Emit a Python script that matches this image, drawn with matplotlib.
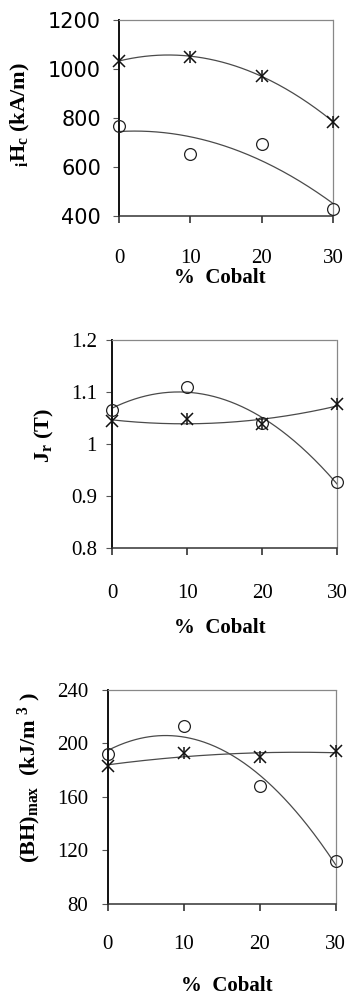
import numpy as np
import matplotlib
matplotlib.use("Agg")
import matplotlib.pyplot as plt

plt.rcParams["mathtext.fontset"] = "custom"
plt.rcParams["mathtext.rm"] = "Liberation Serif:bold"
plt.rcParams["mathtext.it"] = "Liberation Serif:bold"
plt.rcParams["mathtext.bf"] = "Liberation Serif:bold"

cobalt = [0, 10, 20, 30]

# intrinsic coercivity (kA/m)
hc_star = [1033, 1049, 972, 784]
hc_circle = [767, 653, 694, 427]

# remanence (T)
jr_star = [1.043, 1.048, 1.038, 1.076]
jr_circle = [1.065, 1.110, 1.040, 0.926]

# maximum energy product (kJ/m^3)
bh_star = [183, 193, 190, 194]
bh_circle = [192, 213, 168, 112]

panels = [
    dict(star=hc_star, circle=hc_circle, ylim=(400, 1200),
         yticks=[400, 600, 800, 1000, 1200], yfmt="{:d}",
         ylabel=r"${}_{i}\mathrm{H}_{c}$ (kA/m)",
         rect=[0.341, 0.783, 0.613, 0.197],
         yfont=dict(family="DejaVu Sans", size=15),
         xpad=19, ypad=9, xlab=(0.47, -0.265), ylab=(-0.46, 0.515)),
    dict(star=jr_star, circle=jr_circle, ylim=(0.8, 1.2),
         yticks=[0.8, 0.9, 1.0, 1.1, 1.2], yfmt=None,
         ylabel=r"J$_{\mathrm{r}}$ (T)",
         rect=[0.321, 0.449, 0.645, 0.209],
         yfont=dict(family="Liberation Serif", size=15),
         xpad=21, ypad=7, xlab=(0.48, -0.34), ylab=(-0.30, 0.538)),
    dict(star=bh_star, circle=bh_circle, ylim=(80, 240),
         yticks=[80, 120, 160, 200, 240], yfmt="{:d}",
         ylabel=r"(BH)$_{\mathrm{max}}$  (kJ/m $^{3}$ )",
         rect=[0.309, 0.0905, 0.653, 0.2155],
         yfont=dict(family="Liberation Serif", size=15),
         xpad=17, ypad=10, xlab=(0.52, -0.335), ylab=(-0.345, 0.59)),
]

fig = plt.figure(figsize=(3.49, 9.94), dpi=100)
xs = np.linspace(0, 30, 200)
curve_color = "#4a4a4a"

for p in panels:
    ax = fig.add_axes(p["rect"])
    # second-order trend lines through each series
    for vals in (p["star"], p["circle"]):
        coef = np.polyfit(cobalt, vals, 2)
        ax.plot(xs, np.polyval(coef, xs), color=curve_color, lw=0.9,
                clip_on=False, zorder=2)
    ax.plot(cobalt, p["star"], linestyle="none", marker="x", ms=9, mew=1.1,
            color="#111111", clip_on=False, zorder=3)
    ax.plot(cobalt, p["star"], linestyle="none", marker="|", ms=9, mew=1.1,
            color="#111111", clip_on=False, zorder=3)
    ax.plot(cobalt, p["circle"], linestyle="none", marker="o", ms=8.5,
            mfc="none", mec="#222222", mew=0.9, clip_on=False, zorder=3)

    ax.set_xlim(0, 30)
    ax.set_ylim(*p["ylim"])
    ax.set_xticks(cobalt)
    ax.set_xticklabels([str(c) for c in cobalt], family="Liberation Serif",
                       size=15)
    ax.set_yticks(p["yticks"])
    if p["yfmt"]:
        ylabels = [p["yfmt"].format(int(v)) for v in p["yticks"]]
    else:
        ylabels = ["{:g}".format(v) for v in p["yticks"]]
    ax.set_yticklabels(ylabels, **p["yfont"])
    ax.tick_params(axis="x", direction="out", length=5, width=1.1,
                   color="#222222", pad=p["xpad"])
    ax.tick_params(axis="y", direction="out", length=4, width=0.8,
                   color="#555555", pad=p["ypad"])

    ax.spines["left"].set_color("#111111")
    ax.spines["left"].set_linewidth(1.4)
    ax.spines["bottom"].set_color("#333333")
    ax.spines["bottom"].set_linewidth(1.1)
    for side in ("top", "right"):
        ax.spines[side].set_color("#888888")
        ax.spines[side].set_linewidth(0.9)
        ax.spines[side].set_linestyle((0, (1, 1)))

    ax.set_xlabel("%  Cobalt", family="Liberation Serif", weight="bold",
                  size=15)
    ax.xaxis.set_label_coords(*p["xlab"])
    ax.set_ylabel(p["ylabel"], family="Liberation Serif", weight="bold",
                  size=16)
    ax.yaxis.set_label_coords(*p["ylab"])
    ax.yaxis.label.set_verticalalignment("center")

fig.savefig("out.png", dpi=100, facecolor="white")
